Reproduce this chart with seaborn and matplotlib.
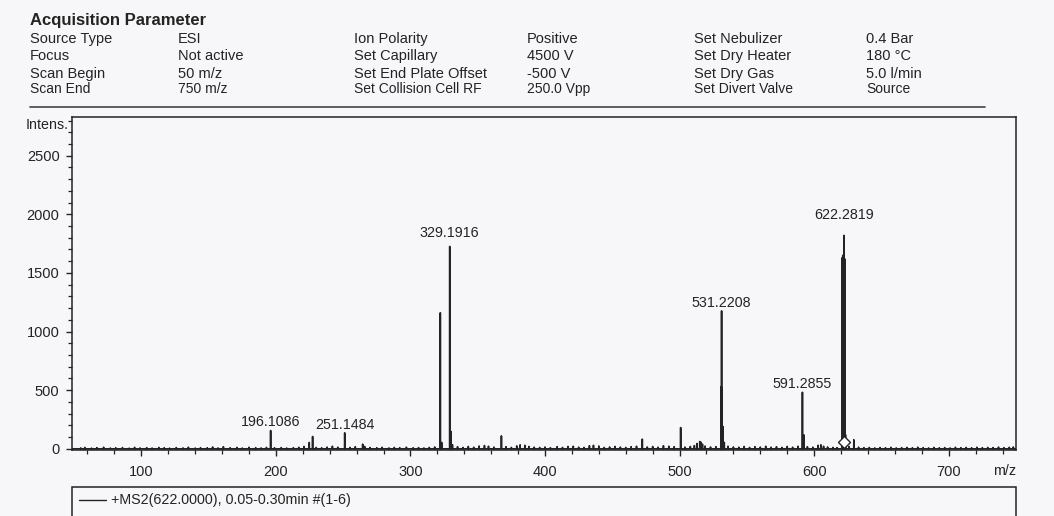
"""
MS2 spectrum of m/z 622 (ESI positive) with the acquisition parameter header.
"""

import numpy as np
import pandas as pd
import matplotlib.pyplot as plt
import seaborn as sns
from matplotlib.ticker import MultipleLocator
from matplotlib.patches import Rectangle
from matplotlib.lines import Line2D


# Header table
names_a = ["Source Type", "Focus", "Scan Begin", "Scan End"]
values_a = ["ESI", "Not active", "50 m/z", "750 m/z"]
names_b = ["Ion Polarity", "Set Capillary", "Set End Plate Offset", "Set Collision Cell RF"]
values_b = ["Positive", "4500 V", "-500 V", "250.0 Vpp"]
names_c = ["Set Nebulizer", "Set Dry Heater", "Set Dry Gas", "Set Divert Valve"]
values_c = ["0.4 Bar", "180 °C", "5.0 l/min", "Source"]

# Main peaks (m/z, intensity)
peak_mz = [196.1086, 224.8, 227.3, 251.1484, 264.5, 322.2, 323.2, 329.1916,
           330.2, 331.2, 367.6, 381.5, 472.3, 500.8, 515.0, 530.8, 531.2208,
           531.6, 532.2, 533.2, 591.2855, 592.3, 620.9, 621.3, 621.8, 622.2819,
           622.7, 623.3, 629.5]
peak_int = [156, 54, 105, 136, 40, 1160, 54, 1726,
            147, 35, 110, 34, 82, 181, 62, 530, 1176,
            520, 190, 55, 482, 119, 1630, 1650, 1650, 1820,
            1620, 120, 77]

# Baseline noise
noise_mz = [55, 58, 63, 67, 72, 77, 81, 86, 91, 95, 99, 104, 108, 113, 117,
            121, 126, 131, 135, 140, 144, 149, 153, 157, 161, 166, 171, 175,
            180, 185, 189, 193, 199, 204, 208, 213, 217, 221, 230, 234, 238,
            242, 246, 255, 259, 266, 270, 275, 279, 284, 288, 292, 297, 302,
            306, 310, 314, 318, 335, 339, 343, 347, 351, 355, 358, 362, 371,
            375, 379, 385, 388, 392, 396, 400, 404, 409, 413, 417, 421, 425,
            429, 433, 436, 440, 444, 448, 452, 456, 460, 464, 468, 476, 480,
            484, 488, 492, 496, 504, 508, 511, 513, 516, 517, 519, 523, 527,
            536, 540, 544, 548, 552, 556, 560, 564, 568, 572, 576, 580, 584,
            588, 595, 599, 603, 605, 607, 610, 614, 617, 626, 633, 637, 641,
            645, 649, 653, 657, 661, 665, 669, 673, 677, 681, 685, 689, 693,
            697, 701, 705, 709, 713, 717, 721, 725, 729, 733, 737, 741, 745, 748]
noise_int = [8, 12, 6, 10, 14, 7, 9, 11, 6, 13, 8, 10, 7, 12, 9,
             6, 11, 8, 14, 7, 10, 9, 16, 8, 18, 9, 12, 7,
             14, 10, 8, 12, 9, 11, 7, 10, 13, 20, 12, 9, 15,
             22, 14, 12, 18, 20, 11, 9, 13, 8, 12, 10, 14, 9,
             11, 8, 12, 16, 18, 12, 20, 14, 24, 28, 22, 15, 18,
             12, 25, 30, 20, 14, 12, 16, 10, 18, 12, 20, 22, 14,
             12, 26, 30, 24, 12, 16, 20, 15, 12, 18, 22, 16, 20,
             14, 26, 22, 18, 15, 20, 28, 45, 55, 40, 24, 16, 18,
             22, 16, 14, 20, 12, 18, 15, 22, 14, 18, 12, 20, 14,
             22, 18, 14, 30, 34, 22, 16, 12, 10, 20, 14, 10, 12,
             8, 11, 9, 13, 8, 10, 12, 9, 14, 10, 8, 12, 9,
             11, 8, 13, 10, 12, 9, 14, 10, 12, 11, 15, 10, 13, 16]

# Annotated peaks
label_mz = [196.1086, 251.1484, 329.1916, 531.2208, 591.2855, 622.2819]
label_pad = [3, 2.5, 7, 2.5, 3, 12]

precursor_mz = 622.0
precursor_int = 57
legend_text = "+MS2(622.0000), 0.05-0.30min #(1-6)"

W, H = 1054, 516
INK = "#232323"
PAPER = "#f7f7f9"

sns.set_theme(style="ticks")
plt.rcParams["font.family"] = ["Liberation Sans", "DejaVu Sans"]
plt.rcParams["text.color"] = INK


def fx(px):
    return px / W


def fy(py):
    return 1 - py / H


# Stick spectrum as one continuous profile trace
sticks = sorted(zip(peak_mz + noise_mz, peak_int + noise_int))
prof_x, prof_y = [48.5], [0]
for m, h in sticks:
    prof_x += [m - 0.08, m, m + 0.08]
    prof_y += [0, h, 0]
prof_x.append(750)
prof_y.append(0)
df = pd.DataFrame({"mz": prof_x, "intens": prof_y})

fig = plt.figure(figsize=(W / 100, H / 100), dpi=100, facecolor=PAPER)
ax = fig.add_axes([fx(72), fy(450), fx(1016) - fx(72), fy(117) - fy(450)])
ax.set_facecolor(PAPER)

sns.lineplot(data=df, x="mz", y="intens", sort=False, estimator=None,
             color=INK, linewidth=1.2, ax=ax)
ax.plot([precursor_mz], [precursor_int], marker="D", markersize=6.5,
        markerfacecolor="white", markeredgecolor=INK, markeredgewidth=1.0,
        linestyle="none", zorder=5)

lookup = dict(zip(peak_mz, peak_int))
for m, pad in zip(label_mz, label_pad):
    ax.annotate(f"{m:.4f}", xy=(m, lookup[m]), xytext=(0, pad),
                textcoords="offset points", ha="center", va="baseline",
                fontsize=10.3, color=INK)

ax.set_xlim(48.5, 750)
ax.set_ylim(-10, 2830)
ax.xaxis.set_major_locator(MultipleLocator(100))
ax.xaxis.set_minor_locator(MultipleLocator(20))
ax.yaxis.set_major_locator(MultipleLocator(500))
ax.yaxis.set_minor_locator(MultipleLocator(100))
ax.tick_params(which="major", length=4, width=1.0, color=INK,
               labelsize=10.5, labelcolor=INK)
ax.tick_params(axis="x", which="major", pad=7)
ax.tick_params(axis="y", which="major", pad=5)
ax.tick_params(which="minor", length=3, width=0.9, color=INK)
ax.set_xlabel("")
ax.set_ylabel("")
for s in ax.spines.values():
    s.set_color(INK)
    s.set_linewidth(1.1)

fig.text(fx(69), fy(125), "Intens.", ha="right", va="center", fontsize=10.3)
fig.text(fx(1016), fy(471), "m/z", ha="right", va="center", fontsize=10.3)

# Header block
fig.text(fx(30), fy(25), "Acquisition Parameter", fontsize=12, fontweight="bold",
         va="baseline")
row_y = [42.7, 60, 77.7, 92.7]
row_size = [10.5, 10.5, 10.5, 10]
cols = [(30, names_a), (178, values_a), (354, names_b),
        (527, values_b), (694, names_c), (866, values_c)]
for x0, texts in cols:
    for t, y0, fs in zip(texts, row_y, row_size):
        fig.text(fx(x0), fy(y0), t, fontsize=fs, va="baseline")
fig.add_artist(Line2D([fx(30), fx(985)], [fy(107), fy(107)], color="#444444",
                      linewidth=1.2))

# Trace legend box
fig.add_artist(Rectangle((fx(72), fy(530)), fx(1016) - fx(72), fy(487) - fy(530),
                         transform=fig.transFigure, facecolor=PAPER,
                         edgecolor=INK, linewidth=1.1))
fig.add_artist(Line2D([fx(79), fx(106)], [fy(500), fy(500)], color=INK,
                      linewidth=1.0))
fig.text(fx(111), fy(500), legend_text, fontsize=10.3, va="center")

fig.savefig("out.png", dpi=100, facecolor=PAPER)
